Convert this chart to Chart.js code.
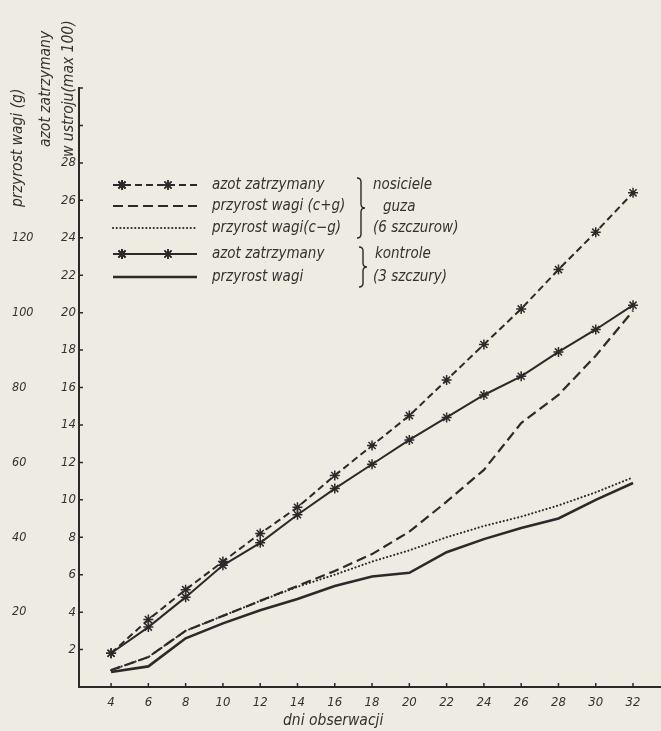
<!DOCTYPE html>
<html>
<head>
<meta charset="utf-8">
<script src="https://cdn.jsdelivr.net/npm/chart.js@4.4.0/dist/chart.umd.min.js"></script>
<style>
  html, body { margin: 0; padding: 0; background: #eeebe2; }
  canvas { display: block; }
</style>
</head>
<body>
<canvas id="chart" width="661" height="731"></canvas>
<script>
// Days of observation
const days = [4, 6, 8, 10, 12, 14, 16, 18, 20, 22, 24, 26, 28, 30, 32];
const dayLabels = ['4', '6', '8', '10', '12', '14', '16', '18', '20', '22', '24', '26', '28', '30', '32'];

// Tumour-bearing rats (6 animals)
const azotNosiciele = [1.8, 3.6, 5.2, 6.7, 8.2, 9.6, 11.3, 12.9, 14.5, 16.4, 18.3, 20.2, 22.3, 24.3, 26.4];
const przyrostCG = [0.9, 1.6, 3.0, 3.8, 4.6, 5.4, 6.2, 7.1, 8.3, 9.9, 11.6, 14.1, 15.6, 17.7, 20.1];
const przyrostCminusG = [0.9, 1.6, 3.0, 3.8, 4.6, 5.35, 6.0, 6.7, 7.3, 8.0, 8.6, 9.1, 9.7, 10.4, 11.2];

// Control rats (3 animals)
const azotKontrole = [1.8, 3.2, 4.8, 6.5, 7.7, 9.2, 10.6, 11.9, 13.2, 14.4, 15.6, 16.6, 17.9, 19.1, 20.4];
const przyrostKontrole = [0.8, 1.1, 2.6, 3.4, 4.1, 4.7, 5.4, 5.9, 6.1, 7.2, 7.9, 8.5, 9.0, 10.0, 10.9];

// Axis ticks: nitrogen scale (inner) and weight gain in grams (outer)
const azotTickValues = [2, 4, 6, 8, 10, 12, 14, 16, 18, 20, 22, 24, 26, 28, 30, 32];
const azotTickLabels = ['2', '4', '6', '8', '10', '12', '14', '16', '18', '20', '22', '24', '26', '28', '', ''];
const wagaTickValues = [20, 40, 60, 80, 100, 120];
const wagaTickLabels = ['20', '40', '60', '80', '100', '120'];

// Legend texts
const seriesLabels = ['azot zatrzymany', 'przyrost wagi (c+g)', 'przyrost wagi(c\u2212g)', 'azot zatrzymany', 'przyrost wagi'];
const groupNosiciele = ['nosiciele', 'guza', '(6 szczurow)'];
const groupKontrole = ['kontrole', '(3 szczury)'];

// Axis titles
const titleWaga = 'przyrost wagi (g)';
const titleAzot = ['azot zatrzymany', 'w ustroju(max 100)'];
const titleDni = 'dni obserwacji';

const INK = '#2b2a28';
const TEXT = '#33322f';
const PAPER = '#eeebe2';
const FAMILY = '"DejaVu Sans Condensed", "DejaVu Sans", sans-serif';

const pts = arr => days.map((d, i) => ({ x: d, y: arr[i] }));

const datasets = [
  { label: seriesLabels[0], data: pts(azotNosiciele), borderColor: INK, borderWidth: 2,
    borderDash: [7, 4], pointStyle: 'star', pointRadius: 5, pointBorderWidth: 1.5,
    pointBorderColor: INK, pointBackgroundColor: 'transparent' },
  { label: seriesLabels[1], data: pts(przyrostCG), borderColor: INK, borderWidth: 2.2,
    borderDash: [10, 5], pointRadius: 0 },
  { label: seriesLabels[2], data: pts(przyrostCminusG), borderColor: INK, borderWidth: 2.1,
    borderDash: [0.1, 3.6], borderCapStyle: 'round', pointRadius: 0 },
  { label: seriesLabels[3], data: pts(azotKontrole), borderColor: INK, borderWidth: 2,
    pointStyle: 'star', pointRadius: 5, pointBorderWidth: 1.5,
    pointBorderColor: INK, pointBackgroundColor: 'transparent' },
  { label: seriesLabels[4], data: pts(przyrostKontrole), borderColor: INK, borderWidth: 2.6,
    pointRadius: 0 }
];
datasets.forEach(d => { d.tension = 0; d.fill = false; });

// Paper background
const paperPlugin = {
  id: 'paper',
  beforeDraw(chart) {
    const { ctx, width, height } = chart;
    ctx.save();
    ctx.fillStyle = PAPER;
    ctx.fillRect(0, 0, width, height);
    ctx.restore();
  }
};

// Short tick marks pointing into the plot area
const innerTicksPlugin = {
  id: 'innerTicks',
  afterDraw(chart) {
    const { ctx, scales: { x, y } } = chart;
    ctx.save();
    ctx.strokeStyle = INK;
    ctx.lineWidth = 1.5;
    ctx.beginPath();
    y.ticks.forEach(t => {
      const py = y.getPixelForValue(t.value);
      ctx.moveTo(y.right, py);
      ctx.lineTo(y.right + 4, py);
    });
    x.ticks.forEach(t => {
      const px = x.getPixelForValue(t.value);
      ctx.moveTo(px, x.top);
      ctx.lineTo(px, x.top - 4);
    });
    ctx.stroke();
    ctx.restore();
  }
};

function drawBrace(ctx, x, y0, y1, w) {
  const ym = (y0 + y1) / 2;
  ctx.beginPath();
  ctx.moveTo(x - w, y0);
  ctx.quadraticCurveTo(x, y0, x, y0 + w);
  ctx.lineTo(x, ym - w);
  ctx.quadraticCurveTo(x, ym, x + w, ym);
  ctx.quadraticCurveTo(x, ym, x, ym + w);
  ctx.lineTo(x, y1 - w);
  ctx.quadraticCurveTo(x, y1, x - w, y1);
  ctx.stroke();
}

// Legend with line samples and bracketed group names
const legendPlugin = {
  id: 'bracketLegend',
  afterDraw(chart) {
    const ctx = chart.ctx;
    const rows = [185, 206, 228, 254, 277];
    const x0 = 113, x1 = 197, tx = 212;
    ctx.save();
    rows.forEach((ry, i) => {
      const ds = chart.data.datasets[i];
      ctx.strokeStyle = ds.borderColor;
      ctx.lineWidth = ds.borderWidth;
      ctx.lineCap = ds.borderCapStyle || 'butt';
      ctx.setLineDash(ds.borderDash || []);
      ctx.beginPath();
      ctx.moveTo(x0, ry);
      ctx.lineTo(x1, ry);
      ctx.stroke();
      ctx.setLineDash([]);
      ctx.lineCap = 'butt';
      if (ds.pointStyle) {
        [122, 168].forEach(mx => {
          Chart.helpers.drawPoint(ctx, {
            pointStyle: ds.pointStyle, radius: ds.pointRadius, rotation: 0,
            borderWidth: ds.pointBorderWidth
          }, mx, ry);
          ctx.strokeStyle = ds.pointBorderColor;
          ctx.lineWidth = ds.pointBorderWidth;
          ctx.stroke();
        });
      }
      ctx.fillStyle = TEXT;
      ctx.font = 'italic 15px ' + FAMILY;
      ctx.textBaseline = 'middle';
      ctx.textAlign = 'left';
      ctx.fillText(ds.label, tx, ry);
    });

    ctx.strokeStyle = INK;
    ctx.lineWidth = 1.4;
    drawBrace(ctx, 361, 178, 238, 4);
    drawBrace(ctx, 363, 247, 287, 4);

    ctx.fillStyle = TEXT;
    ctx.font = 'italic 15px ' + FAMILY;
    ctx.textBaseline = 'middle';
    ctx.fillText(groupNosiciele[0], 373, 185);
    ctx.fillText(groupNosiciele[1], 383, 207);
    ctx.fillText(groupNosiciele[2], 373, 228);
    ctx.fillText(groupKontrole[0], 375, 254);
    ctx.fillText(groupKontrole[1], 373, 277);
    ctx.restore();
  }
};

// Rotated axis titles and the day-axis caption
const titlesPlugin = {
  id: 'axisTitles',
  afterDraw(chart) {
    const ctx = chart.ctx;
    ctx.save();
    ctx.fillStyle = TEXT;
    ctx.font = 'italic 15.5px ' + FAMILY;
    ctx.textBaseline = 'middle';
    ctx.textAlign = 'left';
    const rot = (text, x, yBottom) => {
      ctx.save();
      ctx.translate(x, yBottom);
      ctx.rotate(-Math.PI / 2);
      ctx.fillText(text, 0, 0);
      ctx.restore();
    };
    rot(titleWaga, 18, 207);
    rot(titleAzot[0], 46, 147);
    rot(titleAzot[1], 69, 157);

    ctx.fillText(titleDni, 283, 721);
    ctx.restore();
  }
};

const tickFont = { family: FAMILY, size: 13, style: 'italic' };

new Chart(document.getElementById('chart'), {
  type: 'line',
  data: { datasets },
  plugins: [paperPlugin, innerTicksPlugin, legendPlugin, titlesPlugin],
  options: {
    responsive: false,
    animation: false,
    devicePixelRatio: 1,
    layout: { autoPadding: false, padding: { left: 12, top: 88, right: 0, bottom: 0 } },
    plugins: { legend: { display: false }, tooltip: { enabled: false } },
    scales: {
      x: {
        type: 'linear',
        min: 2.28,
        max: 33.5,
        afterBuildTicks: s => { s.ticks = days.map(v => ({ value: v })); },
        afterFit: s => { s.height = 44; s.paddingLeft = 0; s.paddingRight = 0; },
        grid: { display: false, drawTicks: false },
        border: { display: true, color: INK, width: 2 },
        ticks: {
          font: tickFont, color: TEXT, padding: 8, maxRotation: 0, autoSkip: false,
          callback: v => dayLabels[days.indexOf(v)] ?? ''
        }
      },
      y: {
        type: 'linear',
        position: 'left',
        min: 0,
        max: 32,
        weight: 0,
        afterBuildTicks: s => { s.ticks = azotTickValues.map(v => ({ value: v })); },
        afterFit: s => { s.width = 39; },
        grid: { display: false, drawTicks: false },
        border: { display: true, color: INK, width: 2 },
        ticks: {
          font: tickFont, color: TEXT, padding: 3, autoSkip: false,
          callback: v => azotTickLabels[azotTickValues.indexOf(v)] ?? ''
        }
      },
      yg: {
        type: 'linear',
        position: 'left',
        min: 0,
        max: 160,
        weight: 1,
        afterBuildTicks: s => { s.ticks = wagaTickValues.map(v => ({ value: v })); },
        afterFit: s => { s.width = 28; },
        grid: { display: false, drawTicks: false },
        border: { display: false },
        ticks: {
          font: { family: FAMILY, size: 12.5, style: 'italic' }, color: TEXT,
          crossAlign: 'far', autoSkip: false,
          callback: v => wagaTickLabels[wagaTickValues.indexOf(v)] ?? ''
        }
      }
    }
  }
});
</script>
</body>
</html>
